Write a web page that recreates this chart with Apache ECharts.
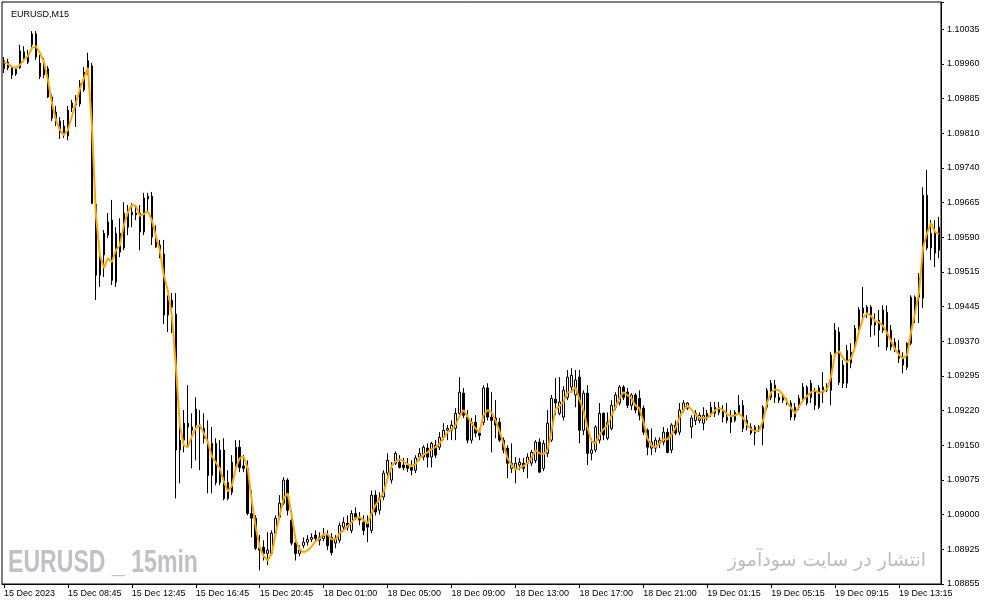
<!DOCTYPE html>
<html><head><meta charset="utf-8">
<script src="https://cdn.jsdelivr.net/npm/echarts@6/dist/echarts.min.js"></script>
<style>html,body{margin:0;padding:0;background:#fff}#c{width:987px;height:605px}</style>
</head><body><div id="c"></div>
<script>
const openP = [
1.09951,1.09965,1.09953,1.09940,1.09953,1.09974,1.09965,1.10002,1.10025,1.09963,
1.09938,1.09951,1.09891,1.09859,1.09816,1.09829,1.09808,1.09868,1.09874,1.09876,
1.09906,1.09944,1.09957,1.09663,1.09512,1.09555,1.09597,1.09629,1.09497,1.09561,
1.09570,1.09644,1.09646,1.09644,1.09644,1.09604,1.09674,1.09680,1.09593,1.09576,
1.09557,1.09427,1.09459,1.09429,1.09140,1.09161,1.09197,1.09189,1.09227,1.09193,
1.09186,1.09157,1.09086,1.09154,1.09071,1.09140,1.09037,1.09050,1.09103,1.09146,
1.09106,1.09101,1.09005,1.08995,1.08931,1.08933,1.08920,1.08920,1.08963,1.08997,
1.09027,1.09076,1.08991,1.08942,1.08920,1.08937,1.08944,1.08950,1.08959,1.08954,
1.08952,1.08959,1.08954,1.08942,1.08948,1.08976,1.08984,1.08969,1.09005,1.08997,
1.08986,1.08986,1.08969,1.09044,1.09012,1.09040,1.09091,1.09076,1.09112,1.09114,
1.09108,1.09108,1.09103,1.09097,1.09125,1.09125,1.09144,1.09125,1.09150,1.09146,
1.09167,1.09182,1.09182,1.09186,1.09218,1.09261,1.09210,1.09161,1.09199,1.09176,
1.09199,1.09272,1.09210,1.09208,1.09199,1.09161,1.09144,1.09101,1.09101,1.09108,
1.09112,1.09112,1.09112,1.09118,1.09157,1.09101,1.09133,1.09161,1.09248,1.09218,
1.09210,1.09252,1.09274,1.09257,1.09295,1.09182,1.09261,1.09133,1.09140,1.09161,
1.09218,1.09165,1.09186,1.09231,1.09240,1.09274,1.09263,1.09235,1.09257,1.09250,
1.09229,1.09182,1.09144,1.09144,1.09154,1.09157,1.09178,1.09140,1.09193,1.09178,
1.09225,1.09229,1.09189,1.09203,1.09203,1.09197,1.09210,1.09218,1.09218,1.09231,
1.09225,1.09203,1.09210,1.09203,1.09220,1.09235,1.09203,1.09176,1.09189,1.09182,
1.09186,1.09231,1.09252,1.09278,1.09252,1.09246,1.09242,1.09240,1.09210,1.09231,
1.09250,1.09274,1.09282,1.09235,1.09272,1.09263,1.09267,1.09267,1.09346,1.09391,
1.09321,1.09282,1.09325,1.09359,1.09401,1.09431,1.09431,1.09444,1.09412,1.09416,
1.09395,1.09433,1.09395,1.09369,1.09352,1.09338,1.09316,1.09367,1.09465,1.09465,
1.09463,1.09682,1.09570,1.09601,1.09565];
const highP = [
1.09976,1.09972,1.09957,1.09955,1.10002,1.09999,1.09991,1.10031,1.10031,1.09980,
1.09974,1.09957,1.09897,1.09872,1.09848,1.09842,1.09872,1.09885,1.09895,1.09927,
1.09955,1.09985,1.09963,1.09672,1.09561,1.09608,1.09644,1.09672,1.09614,1.09633,
1.09667,1.09661,1.09665,1.09661,1.09661,1.09687,1.09687,1.09689,1.09618,1.09587,
1.09587,1.09469,1.09474,1.09474,1.09203,1.09225,1.09278,1.09218,1.09252,1.09225,
1.09218,1.09203,1.09189,1.09165,1.09161,1.09165,1.09097,1.09129,1.09161,1.09161,
1.09129,1.09118,1.09054,1.09001,1.08959,1.08948,1.08965,1.08969,1.09001,1.09044,
1.09082,1.09080,1.09012,1.08959,1.08937,1.08954,1.08959,1.08963,1.08969,1.08965,
1.08974,1.08969,1.08963,1.08959,1.08986,1.08997,1.09001,1.09012,1.09018,1.09008,
1.09001,1.09001,1.09054,1.09054,1.09050,1.09097,1.09133,1.09114,1.09137,1.09129,
1.09123,1.09123,1.09118,1.09129,1.09144,1.09150,1.09154,1.09157,1.09161,1.09178,
1.09197,1.09193,1.09203,1.09229,1.09295,1.09272,1.09225,1.09208,1.09214,1.09186,
1.09278,1.09282,1.09263,1.09246,1.09208,1.09167,1.09150,1.09154,1.09125,1.09123,
1.09123,1.09133,1.09140,1.09161,1.09165,1.09161,1.09225,1.09257,1.09293,1.09295,
1.09276,1.09310,1.09314,1.09310,1.09310,1.09267,1.09278,1.09165,1.09193,1.09240,
1.09220,1.09220,1.09246,1.09263,1.09278,1.09278,1.09272,1.09261,1.09261,1.09267,
1.09235,1.09186,1.09186,1.09167,1.09167,1.09189,1.09186,1.09197,1.09203,1.09240,
1.09246,1.09242,1.09214,1.09225,1.09220,1.09231,1.09225,1.09242,1.09242,1.09242,
1.09235,1.09240,1.09225,1.09225,1.09257,1.09246,1.09214,1.09197,1.09193,1.09193,
1.09235,1.09272,1.09289,1.09289,1.09261,1.09261,1.09250,1.09246,1.09240,1.09257,
1.09282,1.09278,1.09289,1.09272,1.09278,1.09306,1.09282,1.09348,1.09410,1.09401,
1.09331,1.09363,1.09367,1.09406,1.09444,1.09487,1.09448,1.09448,1.09431,1.09438,
1.09448,1.09448,1.09406,1.09378,1.09374,1.09348,1.09369,1.09469,1.09469,1.09516,
1.09699,1.09736,1.09629,1.09629,1.09636];
const lowP = [
1.09942,1.09948,1.09929,1.09936,1.09951,1.09965,1.09961,1.09997,1.09970,1.09929,
1.09931,1.09889,1.09840,1.09829,1.09802,1.09804,1.09799,1.09859,1.09827,1.09870,
1.09902,1.09938,1.09663,1.09459,1.09487,1.09508,1.09591,1.09491,1.09487,1.09550,
1.09565,1.09597,1.09614,1.09629,1.09565,1.09597,1.09646,1.09576,1.09570,1.09548,
1.09408,1.09391,1.09389,1.09037,1.09069,1.09135,1.09146,1.09101,1.09118,1.09097,
1.09154,1.09048,1.09048,1.09065,1.09065,1.09033,1.09033,1.09044,1.09097,1.09093,
1.09093,1.09001,1.08954,1.08927,1.08884,1.08905,1.08895,1.08916,1.08954,1.08991,
1.09023,1.09001,1.08937,1.08905,1.08914,1.08931,1.08937,1.08944,1.08946,1.08937,
1.08946,1.08927,1.08916,1.08931,1.08942,1.08969,1.08969,1.08963,1.08991,1.08980,
1.08959,1.08944,1.08963,1.09001,1.09003,1.09033,1.09084,1.09069,1.09108,1.09101,
1.09097,1.09093,1.09086,1.09091,1.09118,1.09118,1.09103,1.09103,1.09123,1.09140,
1.09161,1.09161,1.09161,1.09161,1.09214,1.09208,1.09154,1.09154,1.09167,1.09161,
1.09193,1.09203,1.09135,1.09165,1.09157,1.09133,1.09080,1.09091,1.09069,1.09097,
1.09093,1.09080,1.09106,1.09112,1.09091,1.09095,1.09125,1.09157,1.09214,1.09214,
1.09203,1.09246,1.09267,1.09231,1.09154,1.09172,1.09108,1.09118,1.09135,1.09154,
1.09161,1.09161,1.09182,1.09225,1.09235,1.09246,1.09229,1.09225,1.09218,1.09203,
1.09172,1.09129,1.09129,1.09135,1.09144,1.09150,1.09133,1.09133,1.09172,1.09172,
1.09220,1.09225,1.09165,1.09193,1.09197,1.09182,1.09203,1.09210,1.09210,1.09214,
1.09199,1.09197,1.09176,1.09199,1.09216,1.09178,1.09182,1.09172,1.09150,1.09178,
1.09150,1.09225,1.09246,1.09240,1.09240,1.09240,1.09235,1.09203,1.09203,1.09225,
1.09246,1.09235,1.09240,1.09225,1.09227,1.09240,1.09263,1.09235,1.09338,1.09278,
1.09272,1.09272,1.09314,1.09352,1.09395,1.09421,1.09421,1.09380,1.09384,1.09359,
1.09389,1.09352,1.09352,1.09348,1.09325,1.09303,1.09310,1.09363,1.09410,1.09410,
1.09442,1.09565,1.09544,1.09529,1.09548];
const closeP = [
1.09968,1.09953,1.09938,1.09951,1.09989,1.09987,1.09982,1.10025,1.09976,1.09934,
1.09965,1.09891,1.09846,1.09836,1.09840,1.09812,1.09863,1.09878,1.09887,1.09919,
1.09944,1.09968,1.09665,1.09512,1.09555,1.09601,1.09625,1.09501,1.09601,1.09601,
1.09644,1.09614,1.09640,1.09640,1.09604,1.09676,1.09680,1.09593,1.09572,1.09555,
1.09427,1.09459,1.09444,1.09140,1.09161,1.09197,1.09189,1.09182,1.09193,1.09186,
1.09165,1.09086,1.09154,1.09071,1.09140,1.09037,1.09071,1.09114,1.09146,1.09103,
1.09101,1.09005,1.08995,1.08931,1.08927,1.08920,1.08927,1.08963,1.08995,1.09027,
1.09076,1.09012,1.08942,1.08920,1.08927,1.08944,1.08950,1.08954,1.08952,1.08948,
1.08957,1.08937,1.08922,1.08952,1.08980,1.08986,1.08976,1.09005,1.08997,1.08991,
1.08969,1.08976,1.09044,1.09008,1.09037,1.09091,1.09118,1.09101,1.09133,1.09103,
1.09103,1.09101,1.09097,1.09123,1.09133,1.09146,1.09125,1.09154,1.09129,1.09167,
1.09182,1.09186,1.09193,1.09218,1.09263,1.09214,1.09161,1.09199,1.09176,1.09171,
1.09272,1.09210,1.09203,1.09193,1.09161,1.09140,1.09112,1.09112,1.09112,1.09114,
1.09101,1.09125,1.09135,1.09157,1.09093,1.09154,1.09197,1.09250,1.09240,1.09242,
1.09267,1.09295,1.09299,1.09289,1.09182,1.09261,1.09133,1.09140,1.09189,1.09218,
1.09172,1.09199,1.09235,1.09257,1.09274,1.09252,1.09235,1.09257,1.09225,1.09214,
1.09178,1.09146,1.09157,1.09161,1.09161,1.09178,1.09135,1.09193,1.09176,1.09225,
1.09240,1.09240,1.09208,1.09218,1.09214,1.09214,1.09218,1.09231,1.09231,1.09220,
1.09210,1.09210,1.09199,1.09220,1.09235,1.09186,1.09189,1.09189,1.09176,1.09189,
1.09231,1.09267,1.09282,1.09252,1.09246,1.09252,1.09244,1.09210,1.09231,1.09250,
1.09274,1.09240,1.09252,1.09267,1.09231,1.09274,1.09274,1.09342,1.09395,1.09284,
1.09282,1.09352,1.09348,1.09399,1.09438,1.09442,1.09444,1.09406,1.09406,1.09395,
1.09438,1.09359,1.09359,1.09352,1.09335,1.09321,1.09367,1.09465,1.09431,1.09506,
1.09682,1.09570,1.09601,1.09559,1.09614];
const maLine = [
1.09965,1.09961,1.09955,1.09953,1.09959,1.09970,1.09978,1.09995,1.09999,1.09985,
1.09965,1.09927,1.09878,1.09842,1.09821,1.09810,1.09821,1.09850,1.09878,1.09908,
1.09931,1.09953,1.09831,1.09640,1.09555,1.09527,1.09548,1.09540,1.09565,1.09576,
1.09618,1.09646,1.09661,1.09659,1.09638,1.09642,1.09648,1.09629,1.09595,1.09565,
1.09512,1.09480,1.09427,1.09321,1.09193,1.09150,1.09146,1.09169,1.09186,1.09193,
1.09176,1.09157,1.09127,1.09114,1.09101,1.09074,1.09052,1.09063,1.09101,1.09123,
1.09125,1.09101,1.09033,1.08976,1.08933,1.08914,1.08905,1.08920,1.08963,1.09001,
1.09037,1.09048,1.09001,1.08948,1.08929,1.08922,1.08927,1.08935,1.08946,1.08952,
1.08961,1.08961,1.08950,1.08950,1.08963,1.08969,1.08978,1.08986,1.08995,1.08997,
1.08991,1.08984,1.09005,1.09023,1.09035,1.09050,1.09080,1.09106,1.09116,1.09120,
1.09116,1.09110,1.09106,1.09110,1.09123,1.09131,1.09135,1.09142,1.09146,1.09154,
1.09165,1.09178,1.09184,1.09193,1.09212,1.09225,1.09212,1.09197,1.09186,1.09178,
1.09214,1.09225,1.09220,1.09203,1.09180,1.09154,1.09123,1.09108,1.09099,1.09101,
1.09106,1.09112,1.09123,1.09140,1.09133,1.09131,1.09140,1.09178,1.09227,1.09233,
1.09242,1.09263,1.09263,1.09274,1.09248,1.09225,1.09189,1.09159,1.09154,1.09172,
1.09184,1.09193,1.09212,1.09231,1.09250,1.09263,1.09257,1.09250,1.09235,1.09229,
1.09201,1.09165,1.09150,1.09146,1.09154,1.09163,1.09163,1.09172,1.09186,1.09208,
1.09225,1.09235,1.09227,1.09216,1.09208,1.09208,1.09208,1.09216,1.09225,1.09229,
1.09225,1.09216,1.09212,1.09214,1.09218,1.09208,1.09193,1.09184,1.09180,1.09182,
1.09203,1.09242,1.09263,1.09269,1.09267,1.09257,1.09242,1.09229,1.09218,1.09233,
1.09246,1.09255,1.09263,1.09267,1.09261,1.09265,1.09269,1.09297,1.09344,1.09350,
1.09335,1.09327,1.09335,1.09359,1.09393,1.09421,1.09431,1.09425,1.09414,1.09412,
1.09404,1.09389,1.09372,1.09355,1.09342,1.09335,1.09342,1.09391,1.09431,1.09476,
1.09570,1.09601,1.09623,1.09604,1.09599];
const timeTickLabels = ['15 Dec 2023','15 Dec 08:45','15 Dec 12:45','15 Dec 16:45','15 Dec 20:45',
  '18 Dec 01:00','18 Dec 05:00','18 Dec 09:00','18 Dec 13:00','18 Dec 17:00','18 Dec 21:00',
  '19 Dec 01:15','19 Dec 05:15','19 Dec 09:15','19 Dec 13:15'];
const priceTickLabels = ['1.08855','1.08925','1.09000','1.09075','1.09150','1.09220','1.09295','1.09370',
  '1.09445','1.09515','1.09590','1.09665','1.09740','1.09810','1.09885','1.09960','1.10035'];
const TICK_EVERY = 16;
const PRICE_MIN = 1.08855, PRICE_STEP = 0.0007375, PRICE_MAX = 1.10093;

// bar times: 15-minute bars, no 00:00 bar, no weekend
const MON = ['Jan','Feb','Mar','Apr','May','Jun','Jul','Aug','Sep','Oct','Nov','Dec'];
const categories = [];
(function(){
  let t = Date.UTC(2023, 11, 15, 4, 45);
  while (categories.length < closeP.length) {
    const d = new Date(t);
    const wd = d.getUTCDay(), h = d.getUTCHours(), m = d.getUTCMinutes();
    if (wd !== 0 && wd !== 6 && !(h === 0 && m === 0)) {
      const p = n => (n < 10 ? '0' : '') + n;
      categories.push(d.getUTCDate() + ' ' + MON[d.getUTCMonth()] + ' ' + p(h) + ':' + p(m));
    }
    t += 15 * 60000;
  }
})();

const candles = closeP.map((c, i) => [openP[i], c, lowP[i], highP[i]]);
const FONT = '"Liberation Sans", Arial, sans-serif';

const chart = echarts.init(document.getElementById('c'), null, {renderer: 'canvas'});
chart.setOption({
  animation: false,
  backgroundColor: '#ffffff',
  title: {text: 'EURUSD,M15', left: 6, top: 5, textStyle: {fontSize: 9, fontWeight: 'normal', color: '#000', fontFamily: FONT}},
  grid: {left: 2, top: 2, right: 46, bottom: 21, show: true, borderColor: '#000', borderWidth: 1, backgroundColor: '#fff'},
  xAxis: {
    type: 'category', data: categories, boundaryGap: true,
    axisLine: {show: true, lineStyle: {color: '#000', width: 1}},
    axisTick: {show: true, alignWithLabel: true, length: 4, lineStyle: {color: '#000'},
      interval: (i) => i % TICK_EVERY === 0},
    axisLabel: {show: true, align: 'left', margin: 5, color: '#000', fontSize: 9, fontFamily: FONT,
      interval: (i) => i % TICK_EVERY === 0,
      formatter: (v) => { const k = categories.indexOf(v); return k % TICK_EVERY === 0 ? timeTickLabels[k / TICK_EVERY] : ''; }},
    splitLine: {show: false}
  },
  yAxis: [
    {type: 'value', min: PRICE_MIN, max: PRICE_MAX, show: false, scale: true, splitLine: {show: false}},
    {type: 'value', position: 'right', min: 0, max: (PRICE_MAX - PRICE_MIN) / PRICE_STEP, interval: 1,
      axisLine: {show: true, lineStyle: {color: '#000'}},
      axisTick: {show: true, length: 3, lineStyle: {color: '#000'}},
      axisLabel: {margin: 6, color: '#000', fontSize: 9, fontFamily: FONT,
        formatter: (v) => { const k = Math.round(v); return Math.abs(v - k) < 1e-6 && priceTickLabels[k] ? priceTickLabels[k] : ''; }},
      splitLine: {show: false}}
  ],
  graphic: [
    {type: 'text', left: 8, top: 548, scaleX: 0.745, z: 0,
      style: {text: 'EURUSD _ 15min', font: 'bold 31px "Liberation Sans", Arial, sans-serif', fill: '#c0c0c8'}},
    {type: 'text', right: 61, top: 552, z: 0,
      style: {text: 'انتشار در سایت سودآموز', font: '19px "DejaVu Sans", sans-serif', fill: '#bdbdbd'}}
  ],
  series: [
    {type: 'candlestick', yAxisIndex: 0, data: candles, barWidth: 2,
      itemStyle: {color: '#ffffff', color0: '#000000', borderColor: '#000000', borderColor0: '#000000', borderWidth: 1}},
    {type: 'line', yAxisIndex: 0, data: maLine, showSymbol: false, symbol: 'none', z: 5,
      lineStyle: {color: '#FFA500', width: 2}}
  ]
});
</script>
</body></html>
